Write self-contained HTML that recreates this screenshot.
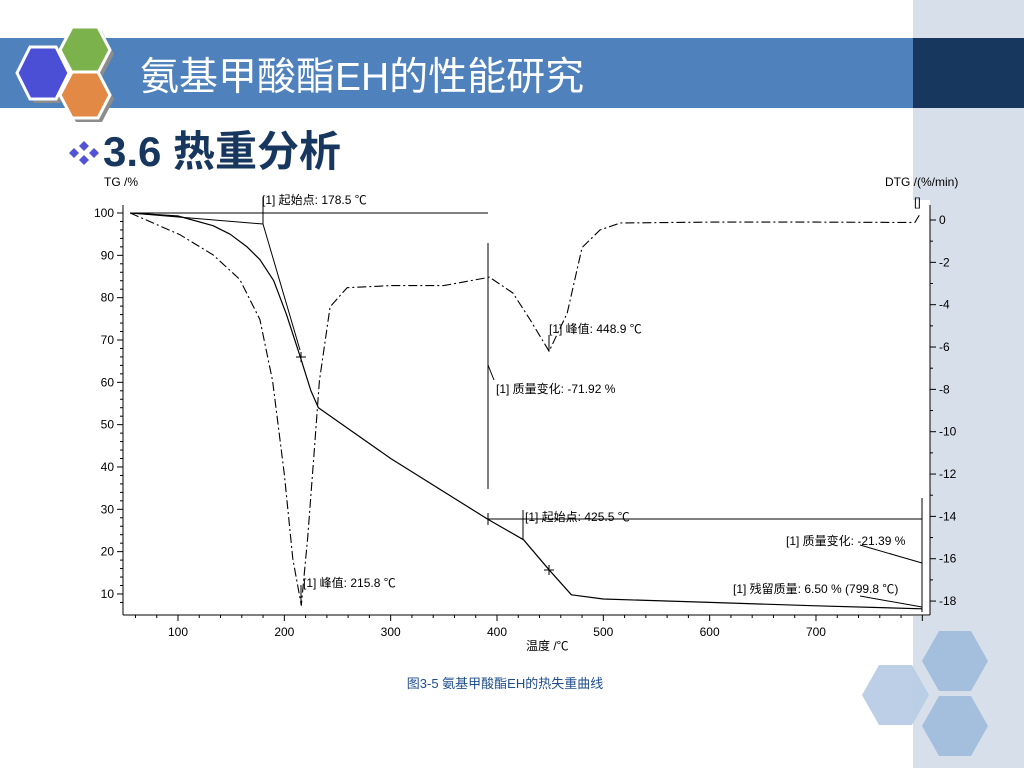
<!DOCTYPE html>
<html><head><meta charset="utf-8"><style>
html,body{margin:0;padding:0;width:1024px;height:768px;overflow:hidden;background:#fff;font-family:"Liberation Sans","Noto Sans CJK SC",sans-serif}
</style></head><body>
<svg width="1024" height="768" viewBox="0 0 1024 768" xmlns="http://www.w3.org/2000/svg">
<rect x="913" y="0" width="111" height="768" fill="#d7e0ea"/>
<rect x="0" y="38" width="913" height="70" fill="#4f81bd"/>
<rect x="913" y="38" width="111" height="70" fill="#17375e"/>
<g>
<g fill="#8c8c8c" transform="translate(4,4)">
<polygon points="17,73 30,47 56,47 69,73 56,99 30,99"/>
<polygon points="60,50 72,27 98,27 110,50 98,73 72,73"/>
<polygon points="60,95 72,72 98,72 110,95 98,118 72,118"/>
</g>
<polygon points="60,50 72,27 98,27 110,50 98,73 72,73" fill="#7cb24c" stroke="#fff" stroke-width="3"/>
<polygon points="60,95 72,72 98,72 110,95 98,118 72,118" fill="#e28a45" stroke="#fff" stroke-width="3"/>
<polygon points="17,73 30,47 56,47 69,73 56,99 30,99" fill="#4a4fd6" stroke="#fff" stroke-width="3"/>
</g>
<text x="140" y="90" font-size="39" fill="#fff" font-family="Liberation Sans,Noto Sans CJK SC,sans-serif">氨基甲酸酯EH的性能研究</text>
<g fill="#5252d6">
<polygon points="79,146 84,141 89,146 84,151"/><polygon points="69,153 74,148 79,153 74,158"/><polygon points="89,153 94,148 99,153 94,158"/><polygon points="79,160 84,155 89,160 84,165"/>
</g>
<text x="103" y="166" font-size="42" font-weight="bold" fill="#17375e">3.6 热重分析</text>
<g>
<polygon points="922,661 939,631 971,631 988,661 971,691 939,691" fill="#a4bedd"/>
<polygon points="862,695 879,665 912,665 929,695 912,725 879,725" fill="#b8cce5" opacity="0.95"/>
<polygon points="922,726 939,696 971,696 988,726 971,756 939,756" fill="#a4bedd"/>
</g>
<rect x="123" y="200" width="807" height="416" fill="#fff"/>
<g id="chart" font-family="Liberation Sans,Noto Sans CJK SC,sans-serif" font-size="12" fill="#000"></g>
<text x="505" y="688" font-size="13" fill="#1f4e8c" text-anchor="middle">图3-5 氨基甲酸酯EH的热失重曲线</text>
</svg>
<script>
const xTicks=[100,200,300,400,500,600,700];
const tgTicks=[100,90,80,70,60,50,40,30,20,10];
const dtgTicks=[0,-2,-4,-6,-8,-10,-12,-14,-16,-18];
const tgTemp=[55,100,133,149,165,177,190,202,215,225,232,300,391,425,449,470,500,600,700,800];
const tgVal=[100,99.3,97,95,92,89,84,76,66,58,54,42,27.7,22.8,15.7,9.8,8.8,8.0,7.2,6.5];
const dtgTemp=[55,102,133,158,177,189,200,208,216,222,228,233,243,259,300,350,393,415,431,449,466,480,497,516,600,700,793,798];
const dtgVal=[0.33,-0.7,-1.65,-2.8,-4.7,-7.6,-12,-16,-18.2,-15,-11,-7.6,-4.1,-3.2,-3.1,-3.1,-2.7,-3.45,-4.7,-6.2,-4.4,-1.3,-0.47,-0.14,-0.1,-0.1,-0.12,0.3];

const NS='http://www.w3.org/2000/svg';
const g=document.getElementById('chart');
const X=t=>178+(t-100)*1.0633;
const Y=v=>213+(100-v)*4.233;
const Y2=v=>220-v*21.17;
function mk(tag,attrs,parent){const e=document.createElementNS(NS,tag);for(const k in attrs)e.setAttribute(k,attrs[k]);(parent||g).appendChild(e);return e;}
function txt(x,y,s,anchor){const t=mk('text',{x:x,y:y,'text-anchor':anchor||'start'});t.textContent=s;return t;}

let a=mk('line',{x1:123,y1:615,x2:930,y2:615,stroke:'#000'});


a=mk('line',{x1:123,y1:205,x2:123,y2:615,stroke:'#000'});


a=mk('line',{x1:930,y1:205,x2:930,y2:615,stroke:'#000'});


for(let t=60;t<=800;t+=20){mk('line',{x1:X(t),y1:615,x2:X(t),y2:t%100===0?621:618,stroke:'#000'});}
xTicks.forEach(t=>{const e=txt(X(t),636,String(t),'middle');
});
for(let v=8;v<=100;v+=2){mk('line',{x1:v%10===0?117:120,y1:Y(v),x2:123,y2:Y(v),stroke:'#000'});}
tgTicks.forEach(v=>{const e=txt(114,Y(v)+4,String(v),'end');
});
for(let v=0;v>=-18;v-=1){mk('line',{x1:930,y1:Y2(v),x2:v%2===0?936:933,y2:Y2(v),stroke:'#000'});}
dtgTicks.forEach(v=>{const e=txt(939,Y2(v)+4,String(v));
});
let e=txt(104,186,'TG /%');

e=txt(885,186,'DTG /(%/min)');

e=txt(526,650,'温度 /℃');


let p=mk('path',{d:tgTemp.map((t,i)=>(i?'L':'M')+X(t).toFixed(1)+','+Y(tgVal[i]).toFixed(1)).join(''),fill:'none',stroke:'#000','stroke-width':1.2,'stroke-linejoin':'round'});


p=mk('path',{d:dtgTemp.map((t,i)=>(i?'L':'M')+X(t).toFixed(1)+','+Y2(dtgVal[i]).toFixed(1)).join(''),fill:'none',stroke:'#000','stroke-width':1.1,'stroke-dasharray':'9,3,2,3','stroke-linejoin':'round'});



const ann=mk('g',{stroke:'#000',fill:'none','stroke-width':1});


[[130,213,488,213],[130,213,263,224],[263,224,300,350],[263,224,263,197],[488,243,488,489],[488,365,494,380],[488,519,922,519],[488,513,488,525],[523,540,523,510],[922,498,922,612],[860,545,922,563],[860,596,922,607],[296,357,306,357],[301,352,301,362],[544,570,554,570],[549,565,549,575],[301,605,301,585],[549,351,549,335]].forEach(l=>mk('line',{x1:l[0],y1:l[1],x2:l[2],y2:l[3]},ann));
[['[1] 起始点: 178.5 ℃',262,204],['[1] 峰值: 448.9 ℃',549,333],['[1] 质量变化: -71.92 %',496,393],['[1] 起始点: 425.5 ℃',525,521],['[1] 质量变化: -21.39 %',786,545],['[1] 峰值: 215.8 ℃',303,587],['[1] 残留质量: 6.50 % (799.8 ℃)',733,593],['[]',914,206]].forEach(a=>{const t=txt(a[1],a[2],a[0]);
});
</script>
</body></html>
